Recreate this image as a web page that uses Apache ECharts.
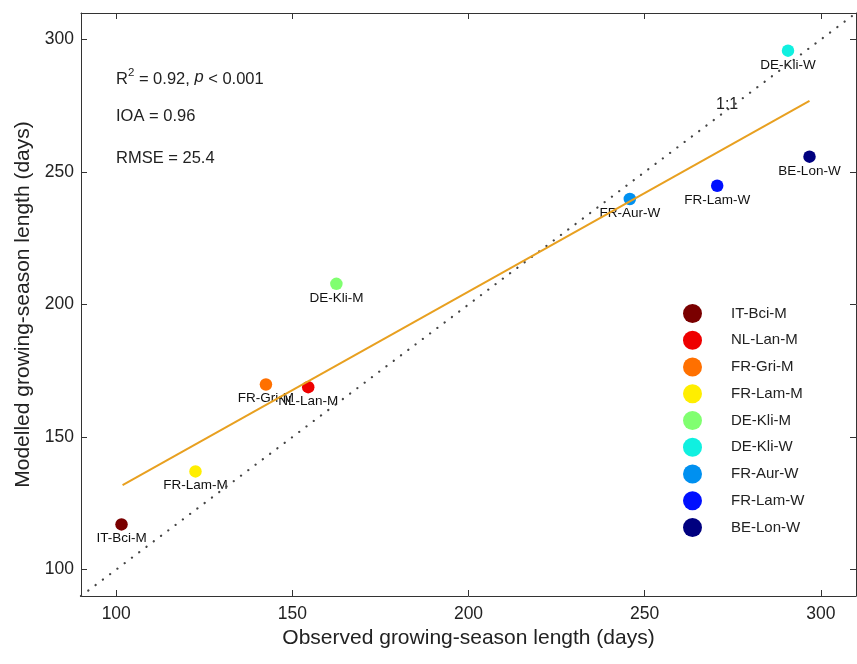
<!DOCTYPE html>
<html>
<head>
<meta charset="utf-8">
<script src="https://cdn.jsdelivr.net/npm/echarts@6/dist/echarts.min.js"></script>
<style>html,body{margin:0;padding:0;background:#fff;}#c{width:857px;height:664px;}</style>
</head>
<body>
<div id="c"></div>
<script>
const sites = ['IT-Bci-M','NL-Lan-M','FR-Gri-M','FR-Lam-M','DE-Kli-M','DE-Kli-W','FR-Aur-W','FR-Lam-W','BE-Lon-W'];
const observed = [101.5, 154.5, 142.5, 122.5, 162.5, 290.7, 245.8, 270.6, 296.8];
const modelled = [117, 168.8, 169.8, 137, 207.8, 295.8, 239.8, 244.8, 255.8];
const colors = ['#7a0000','#ee0000','#ff7000','#ffee00','#80ff70','#10f0e0','#0090f0','#0010ff','#00007f'];
const oneToOneX = [90, 310];
const oneToOneY = [90, 310];
const fitX = [101.8, 296.8];
const fitY = [131.8, 276.8];
const tickValues = [100, 150, 200, 250, 300];

const FONT = '"Liberation Sans", Arial, sans-serif';
const chart = echarts.init(document.getElementById('c'), null, {renderer: 'canvas'});

const scatterSeries = sites.map((s, i) => ({
  name: s,
  type: 'scatter',
  xAxisIndex: 0, yAxisIndex: 0,
  data: [[observed[i], modelled[i]]],
  symbol: 'circle',
  symbolSize: 12.5,
  itemStyle: {color: colors[i], opacity: 1},
  label: {show: true, position: 'bottom', distance: 1, formatter: s, color: '#111', fontSize: 13.5, fontFamily: FONT},
  z: 2
}));

const baseAxis = {
  min: 90, max: 310, interval: 50,
  axisLine: {show: true, onZero: false, lineStyle: {color: '#333', width: 1}},
  axisTick: {show: true, inside: true, length: 6, lineStyle: {color: '#333'}},
  splitLine: {show: false},
  axisLabel: {show: true, fontSize: 17.5, color: '#222', fontFamily: FONT,
    customValues: tickValues},
};

const option = {
  animation: false,
  backgroundColor: '#fff',
  grid: {left: 81, right: 1, top: 13, bottom: 68, containLabel: false},
  xAxis: [
    Object.assign({}, baseAxis, {
      type: 'value', position: 'bottom',
      axisTick: Object.assign({}, baseAxis.axisTick, {customValues: tickValues}),
      axisLabel: Object.assign({}, baseAxis.axisLabel, {margin: 9}),
      name: 'Observed growing-season length (days)', nameLocation: 'middle', nameGap: 31,
      nameTextStyle: {fontSize: 21, color: '#222', fontFamily: FONT}
    }),
    Object.assign({}, baseAxis, {
      type: 'value', position: 'top',
      axisTick: Object.assign({}, baseAxis.axisTick, {customValues: tickValues}),
      axisLabel: {show: false}
    })
  ],
  yAxis: [
    Object.assign({}, baseAxis, {
      type: 'value', position: 'left',
      axisTick: Object.assign({}, baseAxis.axisTick, {customValues: tickValues}),
      axisLabel: Object.assign({}, baseAxis.axisLabel, {margin: 7}),
      name: 'Modelled growing-season length (days)', nameLocation: 'middle', nameGap: 46,
      nameTextStyle: {fontSize: 21, color: '#222', fontFamily: FONT}
    }),
    Object.assign({}, baseAxis, {
      type: 'value', position: 'right',
      axisTick: Object.assign({}, baseAxis.axisTick, {customValues: tickValues}),
      axisLabel: {show: false}
    })
  ],
  legend: {
    data: sites,
    orient: 'vertical',
    left: 683, top: 304, padding: 0,
    icon: 'circle',
    itemWidth: 19, itemHeight: 19, itemGap: 7.75,
    textStyle: {fontSize: 15, color: '#222', fontFamily: FONT, padding: [0, 0, 0, 24]},
    selectedMode: false
  },
  graphic: [
    {type: 'text', left: 116, top: 67, style: {
      text: '{n|R}{s|2}{n| = 0.92, }{i|p}{n| < 0.001}',
      rich: {
        n: {fontSize: 16.5, fontFamily: FONT, fill: '#222', verticalAlign: 'bottom'},
        s: {fontSize: 11.5, fontFamily: FONT, fill: '#222', verticalAlign: 'top', padding: [0, 0, 9, 0]},
        i: {fontSize: 16.5, fontFamily: FONT, fill: '#222', fontStyle: 'italic'}
      }}},
    {type: 'text', left: 116, top: 108, style: {text: 'IOA = 0.96', fontSize: 16.5, fontFamily: FONT, fill: '#222'}},
    {type: 'text', left: 116, top: 150, style: {text: 'RMSE = 25.4', fontSize: 16.5, fontFamily: FONT, fill: '#222'}},
    {type: 'text', left: 716, top: 97, style: {text: '1:1', fontSize: 16, fontFamily: FONT, fill: '#222'}}
  ],
  series: scatterSeries.concat([
    {
      name: '1:1', type: 'line', xAxisIndex: 0, yAxisIndex: 0,
      data: oneToOneX.map((x, i) => [x, oneToOneY[i]]),
      showSymbol: false, symbol: 'none',
      lineStyle: {color: '#444', width: 2.2, type: [0.1, 9], cap: 'round'},
      z: 3, silent: true
    },
    {
      name: 'fit', type: 'line', xAxisIndex: 0, yAxisIndex: 0,
      data: fitX.map((x, i) => [x, fitY[i]]),
      showSymbol: false, symbol: 'none',
      lineStyle: {color: '#e8a020', width: 2},
      z: 4, silent: true
    }
  ])
};
chart.setOption(option);
</script>
</body>
</html>
